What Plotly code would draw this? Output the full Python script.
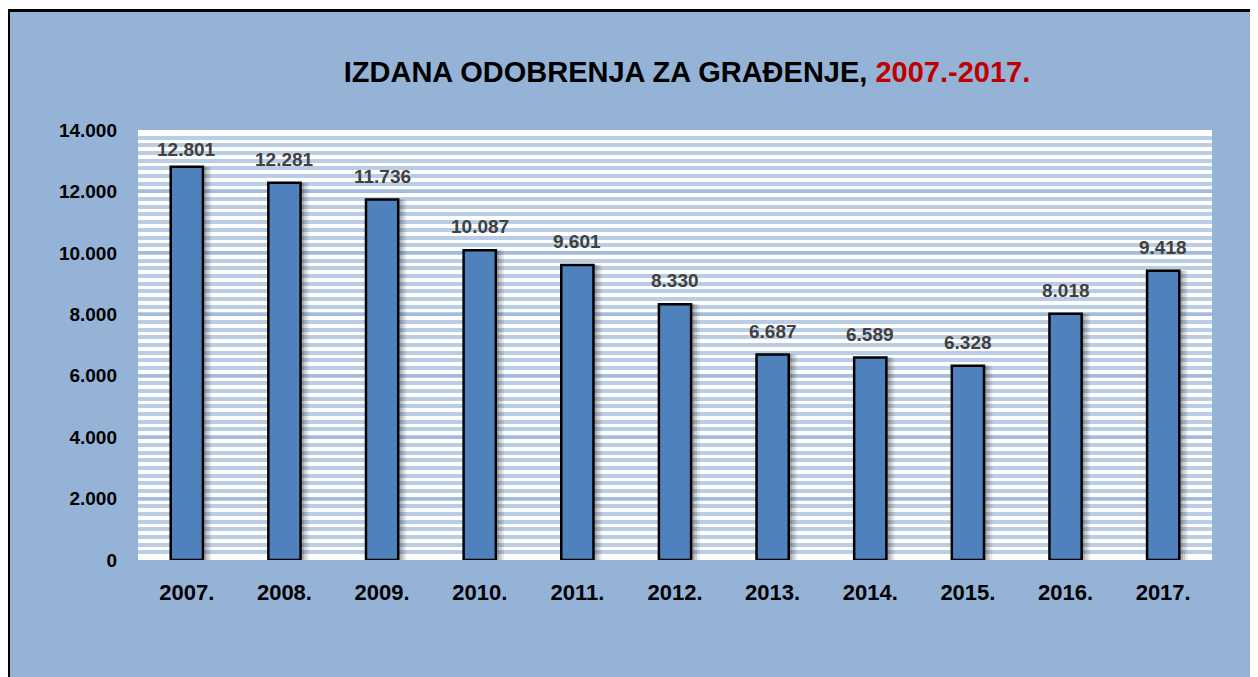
import plotly.graph_objects as go

years = ["2007.", "2008.", "2009.", "2010.", "2011.", "2012.", "2013.", "2014.", "2015.", "2016.", "2017."]
permits = [12801, 12281, 11736, 10087, 9601, 8330, 6687, 6589, 6328, 8018, 9418]
y_ticks = [0, 2000, 4000, 6000, 8000, 10000, 12000, 14000]

# page body has an 8px margin; figure coordinates = page coordinates - 8
W, H = 1250, 669
L, R, T, B = 130, 1250 - 1204, 122, 669 - 552
PW, PH = W - L - R, H - T - B
YMAX = 14000

def px(xp):
    return (xp - L) / PW

def py(yp):
    return (H - B - yp) / PH

BW = 0.33
fig = go.Figure()
# soft shadows
for off, a in [(0.085, 0.10), (0.06, 0.14), (0.035, 0.18)]:
    fig.add_trace(go.Bar(x=years, y=permits, width=BW, offset=-BW / 2 + off,
                         marker=dict(color=f"rgba(40,40,40,{a})", line=dict(width=0)),
                         hoverinfo="skip", showlegend=False))
fig.add_trace(go.Bar(
    x=years, y=permits, width=BW, offset=-BW / 2,
    marker=dict(color="#4F81BD", line=dict(color="black", width=2.5)),
    showlegend=False))

# data labels (category axis: annotation x is the category's serial index)
for i, v in enumerate(permits):
    room = (YMAX - v) / YMAX * PH
    fig.add_annotation(x=i, y=v, xref="x", yref="y", text=f"{v:,}".replace(",", "."),
                       showarrow=False, yanchor="bottom", yshift=min(11, room - 32),
                       font=dict(family="Liberation Sans", size=19, color="#404040", weight="bold"))

fig.update_layout(
    width=W, height=H,
    margin=dict(l=L, r=R, t=T, b=B, autoexpand=False),
    barmode="overlay",
    paper_bgcolor="#95B3D7",
    plot_bgcolor="white",
    font=dict(family="Liberation Sans", color="black"),
    separators=",.",
    title=dict(
        text="IZDANA ODOBRENJA ZA GRAĐENJE, <span style='color:#C00000'>2007.-2017.</span>",
        font=dict(family="Liberation Sans", size=29, color="black", weight="bold"),
        xref="container", yref="container", x=679 / W, y=1 - 64 / H, xanchor="center", yanchor="middle"),
    xaxis=dict(type="category", range=[-0.5, len(years) - 0.5], showgrid=False, showline=False,
               zeroline=False, ticks="",
               tickfont=dict(size=22, weight="bold", color="black"), ticklabelstandoff=17),
    yaxis=dict(range=[0, YMAX], tickvals=y_ticks, tickformat=",",
               showline=False, zeroline=False, ticks="",
               tickfont=dict(size=19, weight="bold", color="black"), ticklabelstandoff=20,
               showgrid=True, gridcolor="#A3BCDC", gridwidth=3,
               minor=dict(dtick=250, showgrid=True, gridcolor="#B9CDE5", gridwidth=4)),
    shapes=[
        dict(type="line", xref="paper", yref="paper", x0=px(0), x1=px(W + 20), y0=py(2.5), y1=py(2.5),
             line=dict(color="black", width=3), layer="above"),
        dict(type="line", xref="paper", yref="paper", x0=px(0.5), x1=px(0.5), y0=py(1), y1=py(H + 20),
             line=dict(color="black", width=3), layer="above"),
        dict(type="rect", xref="paper", yref="paper", x0=px(-5), x1=px(W + 20), y0=py(1), y1=py(-20),
             fillcolor="white", line=dict(width=0), layer="above"),
    ],
)

fig.write_html("out.html")
